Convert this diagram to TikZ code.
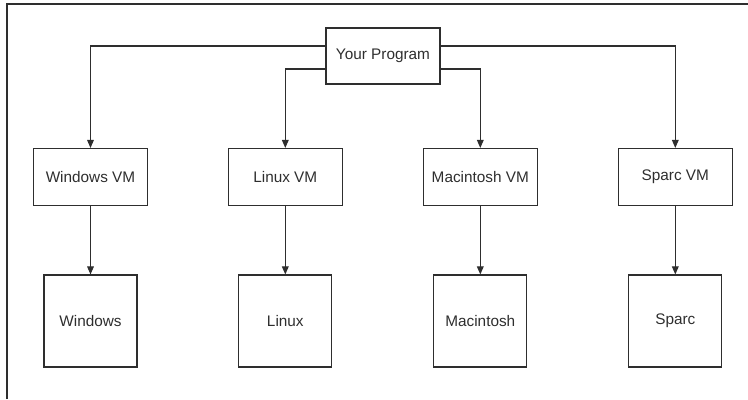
\documentclass[tikz,border=0pt]{standalone}
\usepackage{fontspec}
\setmainfont{Liberation Sans}
\usepackage{tikz}
\usetikzlibrary{calc,arrows.meta,positioning}
\definecolor{ink}{HTML}{2E2E2E}
\tikzset{
  box/.style={draw=ink,line width=0.8pt,inner sep=0pt,text=ink,
    font=\fontsize{11.5}{13.8}\selectfont},
  progbox/.style={box,minimum width=114*0.75pt,minimum height=56*0.75pt},
  vmbox/.style={box,minimum width=114*0.75pt,minimum height=57*0.75pt},
  osbox/.style={box,minimum width=93*0.75pt,minimum height=92*0.75pt},
  frame/.style={draw=ink,line width=1.4pt}
}
\tikzstyle{arrow} = [draw=ink,line width=0.8pt,-{Triangle[length=6pt,width=5pt]}]

\begin{document}
\begin{tikzpicture}[x=0.75pt,y=0.75pt]
  \useasboundingbox (0,0) rectangle (748,399);
  % frame
  \draw[frame] (7,0) -- (7,395) -- (748,395);
  \node[progbox] (prog) at (383,343) {Your Program};
  % virtual machines
  \node[vmbox] (winvm) at (90.5,222) {Windows VM};
  \node[vmbox] (linvm) at (285.3,222) {Linux VM};
  \node[vmbox] (macvm) at (480.3,222) {Macintosh VM};
  \node[vmbox] (sparcvm) at (675.3,222) {Sparc VM};
  % platforms
  \node[osbox] (win) at (90.5,78) {Windows};
  \node[osbox] (lin) at (285.3,78) {Linux};
  \node[osbox] (mac) at (480.3,78) {Macintosh};
  \node[osbox] (sparc) at (675.3,78) {Sparc};
  \draw[arrow] ($(prog.west)+(0,10)$) -| (winvm.north);
  \draw[arrow] ($(prog.west)+(0,-13)$) -| (linvm.north);
  \draw[arrow] ($(prog.east)+(0,-13)$) -| (macvm.north);
  \draw[arrow] ($(prog.east)+(0,10)$) -| (sparcvm.north);
  \draw[arrow] (winvm) -- (win);
  \draw[arrow] (linvm) -- (lin);
  \draw[arrow] (macvm) -- (mac);
  \draw[arrow] (sparcvm) -- (sparc);
\end{tikzpicture}
\end{document}
